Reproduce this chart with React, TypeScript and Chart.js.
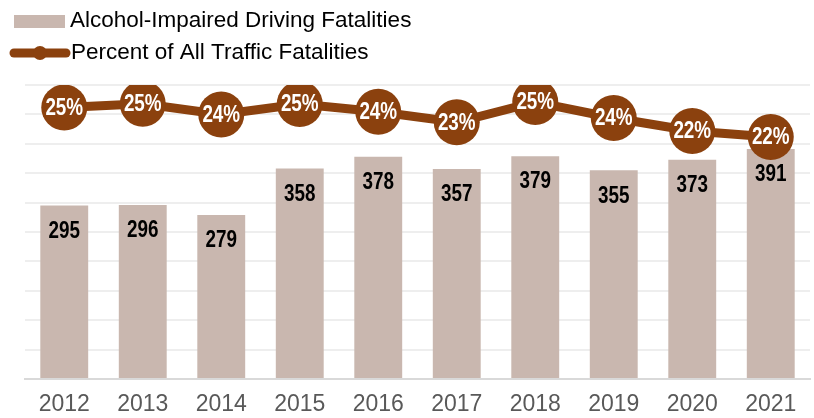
import React, { useEffect, useRef } from "react";
import { Chart, registerables } from "chart.js";

Chart.register(...registerables);

const years = ["2012", "2013", "2014", "2015", "2016", "2017", "2018", "2019", "2020", "2021"];
const fatalities = [295, 296, 279, 358, 378, 357, 379, 355, 373, 391];
const percentOfAll = [24.74, 25.12, 24.04, 25.09, 24.32, 23.26, 25.29, 23.69, 22.38, 21.78];
const legendLabels = ["Alcohol-Impaired Driving Fatalities", "Percent of All Traffic Fatalities"];

const BAR_COLOR = "#C9B7AF";
const LINE_COLOR = "#8B410E";
const SANS = "'Liberation Sans', Arial, sans-serif";
const NARROW_SCALE = 0.82;

function drawNarrow(ctx: any, text: string, x: number, y: number) {
  ctx.save();
  ctx.translate(x, y);
  ctx.scale(NARROW_SCALE, 1);
  ctx.fillText(text, 0, 0);
  ctx.restore();
}

const labelPlugin = {
  id: "valueLabels",
  afterDatasetsDraw(chart: any) {
    const ctx = chart.ctx;
    ctx.save();
    ctx.textAlign = "center";
    ctx.textBaseline = "middle";
    ctx.font = `bold 23px ${SANS}`;
    const barMeta = chart.getDatasetMeta(0);
    ctx.fillStyle = "#000000";
    barMeta.data.forEach((el: any, i: number) => {
      drawNarrow(ctx, String(fatalities[i]), el.x, el.y + 26);
    });
    const lineMeta = chart.getDatasetMeta(1);
    ctx.fillStyle = "#FFFFFF";
    lineMeta.data.forEach((el: any, i: number) => {
      drawNarrow(ctx, Math.round(percentOfAll[i]) + "%", el.x, el.y + 1);
    });
    ctx.restore();
  },
};

const legendPlugin = {
  id: "customLegend",
  afterDraw(chart: any) {
    const ctx = chart.ctx;
    ctx.save();
    ctx.fillStyle = BAR_COLOR;
    ctx.fillRect(14, 15, 51, 13);
    ctx.strokeStyle = LINE_COLOR;
    ctx.lineWidth = 9;
    ctx.lineCap = "round";
    ctx.beginPath();
    ctx.moveTo(14, 53);
    ctx.lineTo(66, 53);
    ctx.stroke();
    ctx.fillStyle = LINE_COLOR;
    ctx.beginPath();
    ctx.arc(40, 53, 7, 0, Math.PI * 2);
    ctx.fill();
    ctx.fillStyle = "#000000";
    ctx.font = `22.5px ${SANS}`;
    ctx.textAlign = "left";
    ctx.textBaseline = "middle";
    ctx.fillText(legendLabels[0], 70, 21);
    ctx.fillText(legendLabels[1], 71, 53);
    ctx.restore();
  },
};

export default function App() {
  const ref = useRef<HTMLCanvasElement | null>(null);
  useEffect(() => {
    if (!ref.current) return;
    const chart = new Chart(ref.current, {
      type: "bar",
      data: {
        labels: years,
        datasets: [
          {
            type: "bar",
            label: legendLabels[0],
            data: fatalities,
            backgroundColor: BAR_COLOR,
            barPercentage: 0.61,
            categoryPercentage: 1,
            yAxisID: "y",
            order: 2,
          },
          {
            type: "line",
            label: legendLabels[1],
            data: percentOfAll,
            borderColor: LINE_COLOR,
            backgroundColor: LINE_COLOR,
            borderWidth: 9,
            pointRadius: 23,
            pointHoverRadius: 23,
            pointBorderWidth: 0,
            pointBackgroundColor: LINE_COLOR,
            yAxisID: "y2",
            order: 1,
          } as any,
        ],
      },
      options: {
        responsive: false,
        animation: false,
        events: [],
        layout: { padding: { left: 25, right: 23, top: 85, bottom: 0 } },
        plugins: { legend: { display: false }, tooltip: { enabled: false } },
        scales: {
          x: {
            grid: { display: false, drawTicks: false },
            border: { display: true, color: "#D9D9D9", width: 2 },
            ticks: { color: "#595959", font: { family: SANS, size: 23 }, padding: 12, maxRotation: 0 },
            afterFit: (s: any) => {
              s.height = 39;
            },
          },
          y: {
            min: 0,
            max: 500,
            ticks: { display: false, stepSize: 50 },
            grid: {
              drawTicks: false,
              color: (c: any) => (c.tick && c.tick.value === 0 ? "#D9D9D9" : "#EEEEEE"),
              lineWidth: 2,
            },
            border: { display: false },
            afterFit: (s: any) => {
              s.width = 0;
            },
          },
          y2: {
            display: false,
            min: -2.5,
            max: 27,
          },
        },
      },
      plugins: [labelPlugin, legendPlugin],
    });
    return () => chart.destroy();
  }, []);
  return (
    <div style={{ position: "fixed", left: 0, top: 0, width: 814, height: 418, overflow: "hidden", background: "#fff" }}>
      <canvas ref={ref} width={833} height={418} style={{ display: "block" }} />
    </div>
  );
}
